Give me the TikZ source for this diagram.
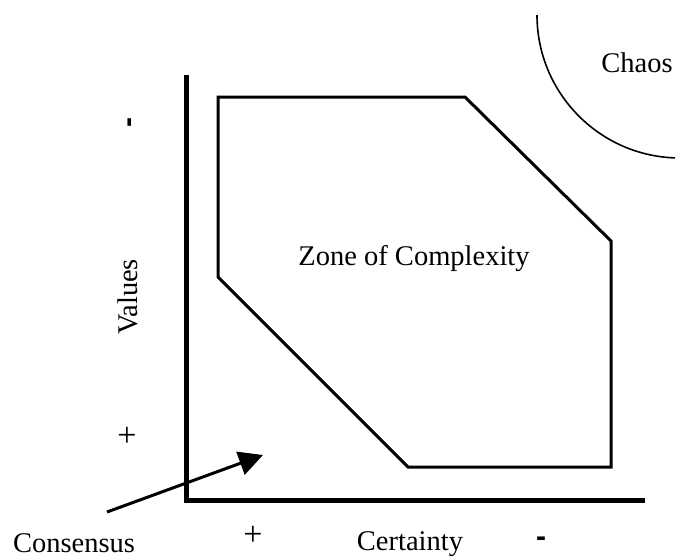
\documentclass[tikz,border=0pt]{standalone}
\usepackage{fontspec}
\setmainfont{Liberation Serif}
\setsansfont{Liberation Sans}
\usetikzlibrary{arrows.meta}

\begin{document}
\begin{tikzpicture}[x=0.5pt, y=-0.5pt,
    txt/.style={inner sep=0pt, font=\fontsize{14.25}{17}\selectfont},
    plus/.style={inner sep=0pt, font=\fontsize{17}{20}\selectfont},
    sign/.style={inner sep=0pt, font=\fontsize{15}{17}\selectfont\sffamily\bfseries},
    axis/.style={line width=2.5pt, line join=miter},
    zone/.style={line width=1.5pt, line join=miter},
    arrow/.style={-{Triangle[length=12pt, width=12pt]}, line width=1.5pt}
]
\useasboundingbox (0,0) rectangle (676,557);

% axes
\draw[axis] (186,75) |- (645,500);

% zone of complexity
\draw[zone] (218,97) -- (465,97) -- (611,241) -- (611,467) -- (408,467) -- (218,277) -- cycle;
\node[txt, anchor=base] (zone) at (414,265) {Zone of Complexity};

% chaos
\draw[line width=0.8pt] (537,15) arc[start angle=180, end angle=92, radius=143];
\node[txt, anchor=base] (chaos) at (637,72) {Chaos};

% labels on the axes
\node[txt, rotate=90, anchor=base] (values) at (137,297) {Values};
\node[sign, rotate=90] (vminus) at (133,123) {-};
\node[plus] (vplus) at (127,437) {+};
\node[txt, anchor=base] (certainty) at (410,550) {Certainty};
\node[plus] (cplus) at (253,536) {+};
\node[sign] (cminus) at (541,542) {-};

% consensus
\node[txt, anchor=base] (consensus) at (74,552) {Consensus};
\coordinate (tail) at (107,512);
\coordinate (head) at (263,455);
\draw[arrow] (tail) -- (head);
\end{tikzpicture}
\end{document}
